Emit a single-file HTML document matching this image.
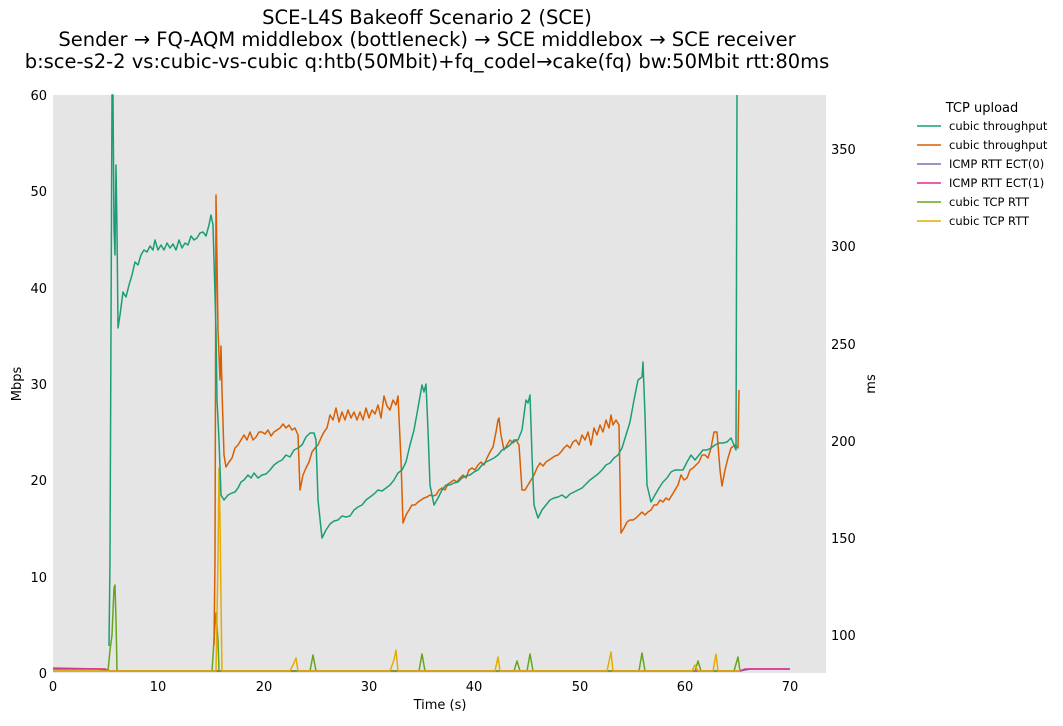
<!DOCTYPE html>
<html><head><meta charset="utf-8"><style>
body{margin:0;background:#fff;}
svg text{font-family:"DejaVu Sans","Liberation Sans",sans-serif;}
</style></head><body>
<svg width="1063" height="721" xmlns="http://www.w3.org/2000/svg">
<rect x="0" y="0" width="1063" height="721" fill="#fff"/>
<rect x="53" y="95" width="773" height="578" fill="#e5e5e5"/>
<g font-size="19.5" text-anchor="middle" fill="#000">
<text x="427" y="24">SCE-L4S Bakeoff Scenario 2 (SCE)</text>
<text x="427" y="46">Sender → FQ-AQM middlebox (bottleneck) → SCE middlebox → SCE receiver</text>
<text x="427" y="68">b:sce-s2-2 vs:cubic-vs-cubic q:htb(50Mbit)+fq_codel→cake(fq) bw:50Mbit rtt:80ms</text>
</g>
<g font-size="13" fill="#000">
<g text-anchor="end">
<text x="47" y="678">0</text><text x="47" y="582">10</text><text x="47" y="485">20</text><text x="47" y="389">30</text><text x="47" y="293">40</text><text x="47" y="196">50</text><text x="47" y="100">60</text>
</g>
<g text-anchor="start">
<text x="831" y="640">100</text><text x="831" y="543">150</text><text x="831" y="446">200</text><text x="831" y="349">250</text><text x="831" y="251">300</text><text x="831" y="154">350</text>
</g>
<g text-anchor="middle">
<text x="53" y="691">0</text><text x="158" y="691">10</text><text x="264" y="691">20</text><text x="369" y="691">30</text><text x="474" y="691">40</text><text x="580" y="691">50</text><text x="685" y="691">60</text><text x="790" y="691">70</text>
<text x="440" y="709">Time (s)</text>
</g>
<text transform="translate(21,384) rotate(-90)" text-anchor="middle">Mbps</text>
<text transform="translate(875,384) rotate(-90)" text-anchor="middle">ms</text>
</g>
<g fill="none" stroke-width="1.5" stroke-linejoin="round">
<polyline stroke="#7570b3" points="53,668 100,669 110,671 740,671 750,669 790,669"/>
<polyline stroke="#e7298a" points="53,669 105,669 110,671 740,671 745,669 790,669"/>
<polyline stroke="#66a61e" points="53,671 108,671 110,650 112,635 114,588 115,585 116,620 117,671 212,671 215,625 216,613 218,640 219,671 310,671 313,655 316,671 419,671 422,654 425,671 514,671 517,661 520,671 527,671 530,654 533,671 639,671 642,653 645,671 695,671 698,661 701,671 734,671 738,657 740,671"/>
<polyline stroke="#e6ab02" points="53,671 216,671 218,560 219,468 220,520 221,600 222,671 290,671 293,665 296,658 298,671 390,671 394,660 396,650 398,671 495,671 498,657 500,671 607,671 611,652 613,671 692,671 695,665 698,671 713,671 716,654 718,671 740,671"/>
<polyline stroke="#d95f02" points="214,645 215,560 216,195 217,260 218,330 220,380 221,346 222,390 224,455 226,467 229,462 232,458 235,448 238,445 241,440 244,435 247,440 250,432 253,440 256,437 259,432 262,432 265,434 268,430 271,436 274,432 277,430 280,428 283,424 286,428 289,425 292,430 295,428 298,435 300,490 303,475 306,468 309,462 312,452 315,448 318,445 321,438 324,432 327,428 330,415 333,420 336,408 339,422 342,412 345,420 348,410 351,418 354,412 357,420 360,412 363,420 366,408 369,418 372,410 375,414 378,405 381,418 384,396 387,406 390,410 393,400 396,405 398,396 401,460 403,523 406,515 409,510 412,505 415,505 418,502 421,500 424,498 427,497 430,495 433,496 436,495 439,490 442,488 445,490 448,484 451,482 454,480 457,482 460,478 463,475 466,478 469,470 472,468 475,470 478,465 481,462 484,465 487,458 490,452 493,447 496,432 498,420 499,418 501,435 504,450 507,445 510,440 513,443 516,440 519,445 522,490 525,490 528,485 531,480 534,475 537,468 540,463 543,466 546,462 549,460 552,458 555,456 558,455 561,452 564,448 567,445 570,448 573,442 576,440 579,445 582,435 585,440 588,432 591,445 594,428 597,435 600,425 603,432 606,420 609,428 611,415 613,425 616,420 619,425 621,533 624,528 627,522 630,520 633,520 636,518 639,515 642,512 645,515 648,512 651,510 654,505 657,505 660,500 663,502 666,498 669,500 672,495 675,490 678,485 681,475 684,480 687,478 690,470 693,468 696,465 699,462 702,455 705,455 708,458 711,448 714,432 717,432 720,470 722,486 725,470 728,458 731,448 735,445 738,448 739,390"/>
<polyline stroke="#1b9e77" points="109,646 110,560 112,95 113,95 114,228 115,255 116,165 117,230 118,328 120,315 123,292 126,297 129,285 132,275 135,262 138,265 141,255 144,250 147,252 150,246 153,250 155,240 158,250 161,245 164,250 167,243 170,248 173,244 176,250 179,240 182,248 185,243 188,245 191,236 194,240 197,238 200,233 203,232 206,236 209,225 211,215 213,225 214,260 216,330 217,400 219,440 221,495 224,500 228,495 232,493 235,492 238,488 241,482 244,480 248,475 251,478 254,473 258,478 262,475 266,474 270,470 274,465 278,462 282,460 286,455 290,457 294,450 298,448 302,445 306,437 310,433 314,433 316,440 318,500 322,538 326,530 330,524 334,521 338,520 342,516 346,517 350,516 354,510 358,507 362,505 366,500 370,497 374,494 378,490 382,491 386,488 390,485 394,480 398,473 402,470 406,462 410,445 414,430 418,408 422,385 424,392 426,384 428,430 430,485 434,505 438,498 442,490 446,485 450,485 454,483 458,482 462,478 466,476 470,475 474,472 478,470 482,465 486,462 490,460 494,458 498,455 502,450 506,448 510,445 514,440 518,440 522,430 526,400 528,403 530,395 532,455 534,505 538,518 542,510 546,505 550,500 554,498 558,497 562,495 566,498 570,494 574,492 578,490 582,488 586,484 590,480 594,477 598,474 602,470 606,465 610,463 614,458 618,455 622,448 626,435 630,422 634,400 638,380 642,377 643,362 645,415 647,485 651,502 655,495 659,488 663,482 667,478 671,472 675,470 679,470 683,470 687,462 691,455 695,460 699,455 703,450 707,450 711,448 715,445 719,443 723,443 727,442 731,438 734,445 736,450 737,95"/>
</g>
<g font-size="13" fill="#000"><text x="982" y="112" text-anchor="middle">TCP upload</text></g>
<g font-size="11.5" fill="#000">
<line x1="917" y1="126" x2="941" y2="126" stroke="#1b9e77" stroke-width="1.5"/><text x="949" y="130">cubic throughput</text>
<line x1="917" y1="145" x2="941" y2="145" stroke="#d95f02" stroke-width="1.5"/><text x="949" y="149">cubic throughput</text>
<line x1="917" y1="164" x2="941" y2="164" stroke="#7570b3" stroke-width="1.5"/><text x="949" y="168">ICMP RTT ECT(0)</text>
<line x1="917" y1="183" x2="941" y2="183" stroke="#e7298a" stroke-width="1.5"/><text x="949" y="187">ICMP RTT ECT(1)</text>
<line x1="917" y1="202" x2="941" y2="202" stroke="#66a61e" stroke-width="1.5"/><text x="949" y="206">cubic TCP RTT</text>
<line x1="917" y1="221" x2="941" y2="221" stroke="#e6ab02" stroke-width="1.5"/><text x="949" y="225">cubic TCP RTT</text>
</g>
</svg>
</body></html>
